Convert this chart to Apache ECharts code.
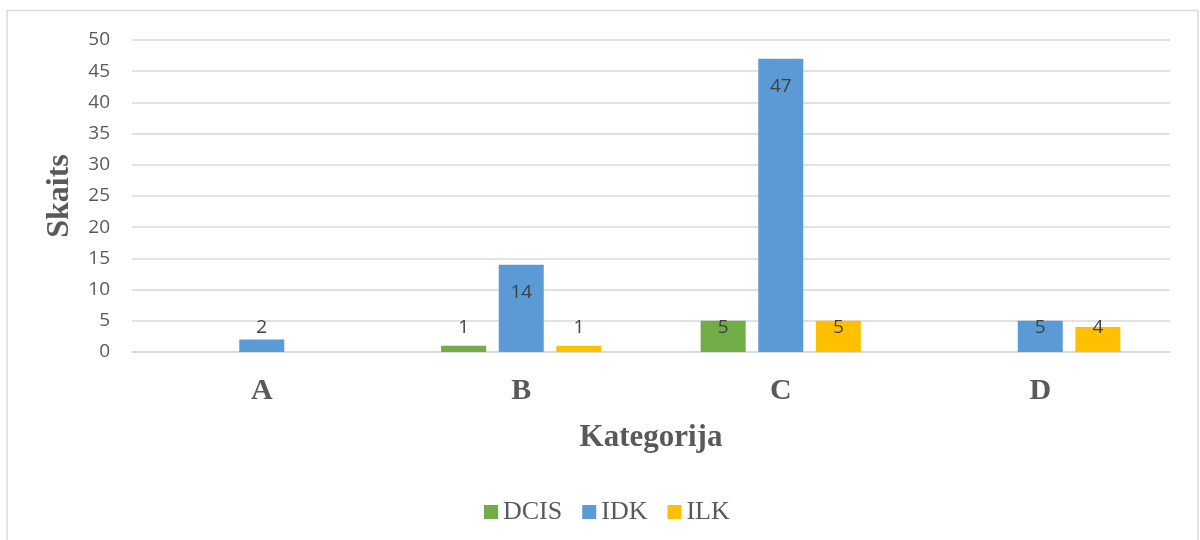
<!DOCTYPE html>
<html>
<head>
<meta charset="utf-8">
<script src="https://cdn.jsdelivr.net/npm/echarts@6/dist/echarts.min.js"></script>
<style>
  html, body { margin: 0; padding: 0; background: #ffffff; }
  #chart { width: 1200px; height: 540px; }
</style>
</head>
<body>
<div id="chart"></div>
<script>
// Case counts per category and tumour type
const categories = ['A', 'B', 'C', 'D'];
const dcis = [null, 1, 5, null];
const idk = [2, 14, 47, 5];
const ilk = [null, 1, 5, 4];

const yMin = 0, yMax = 50, yStep = 5;

const seriesDefs = [
  { name: 'DCIS', data: dcis, color: '#70AD47' },
  { name: 'IDK', data: idk, color: '#5B9BD5' },
  { name: 'ILK', data: ilk, color: '#FFC000' }
];

// Tall bars carry their value inside the top end; short bars get it
// at a fixed height just above the baseline.
function itemsWithLabels(values) {
  return values.map(v => {
    if (v == null) return { value: null };
    const tall = v >= 10;
    return {
      value: v,
      label: tall
        ? { position: 'insideTop', distance: 18 }
        : { position: 'insideBottom', distance: 15 }
    };
  });
}

const chart = echarts.init(document.getElementById('chart'), null, { renderer: 'canvas' });

chart.setOption({
  backgroundColor: '#ffffff',
  animation: false,
  graphic: [{
    type: 'rect',
    shape: { x: 7, y: 10.5, width: 1191, height: 560 },
    style: { fill: 'none', stroke: '#d9d9d9', lineWidth: 1.5 },
    silent: true,
    z: -1
  }],
  grid: { left: 132, right: 30, top: 40, bottom: 188 },
  legend: {
    data: seriesDefs.map(s => s.name),
    left: 479,
    top: 494,
    itemWidth: 14,
    itemHeight: 14,
    itemGap: 20,
    icon: 'rect',
    textStyle: { fontFamily: 'Liberation Serif', fontSize: 26, color: '#595959', padding: [0, 0, 0, 0] }
  },
  xAxis: {
    type: 'category',
    data: categories,
    name: 'Kategorija',
    nameLocation: 'middle',
    nameGap: 70,
    nameTextStyle: { fontFamily: 'Liberation Serif', fontWeight: 'bold', fontSize: 31, color: '#595959' },
    axisLine: { show: true, lineStyle: { color: '#d9d9d9', width: 1.5 } },
    axisTick: { show: false },
    axisLabel: { fontFamily: 'Liberation Serif', fontWeight: 'bold', fontSize: 30, color: '#595959', margin: 24 }
  },
  yAxis: {
    type: 'value',
    min: yMin,
    max: yMax,
    interval: yStep,
    name: 'Skaits',
    nameLocation: 'middle',
    nameRotate: 90,
    nameGap: 56,
    nameTextStyle: { fontFamily: 'Liberation Serif', fontWeight: 'bold', fontSize: 32, color: '#595959' },
    axisLine: { show: false },
    axisTick: { show: false },
    splitLine: { lineStyle: { color: '#d9d9d9', width: 1.5 } },
    axisLabel: { fontFamily: 'Open Sans', fontSize: 19, color: '#595959', margin: 22 }
  },
  series: seriesDefs.map(s => ({
    name: s.name,
    type: 'bar',
    data: itemsWithLabels(s.data),
    barWidth: 45,
    barGap: '28%',
    itemStyle: { color: s.color },
    label: {
      show: true,
      fontFamily: 'Open Sans',
      fontSize: 19,
      color: '#404040'
    }
  }))
});
</script>
</body>
</html>
